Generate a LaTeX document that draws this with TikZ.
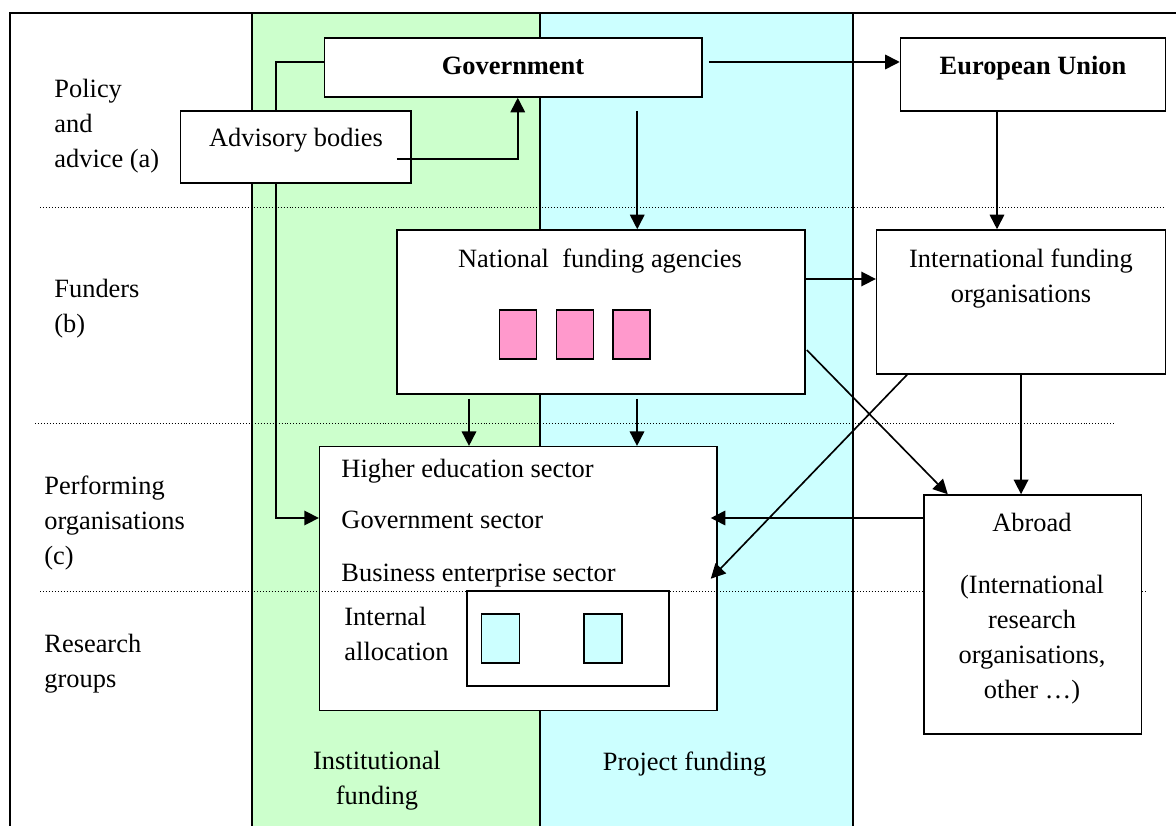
\documentclass[tikz,border=0pt]{standalone}
\usepackage{fontspec}
\setmainfont{Liberation Serif}
\usetikzlibrary{arrows.meta,fit,calc}
\definecolor{instgreen}{HTML}{CCFFCC}
\definecolor{projcyan}{HTML}{CCFFFF}
\definecolor{agencypink}{HTML}{FF99CC}
\tikzset{
  box/.style={draw, fill=white, line width=0.7pt, inner sep=0pt},
  arr/.style={-{Triangle[length=6.6pt,width=6.6pt]}, line width=0.75pt},
  dotline/.style={line width=0.45pt, dash pattern=on 0.45pt off 0.9pt},
  lbl/.style={inner sep=0pt, align=left, anchor=north west},
  txt/.style={inner sep=0pt, align=center, anchor=north},
  pinkbox/.style={draw, fill=agencypink, line width=0.7pt, inner sep=0pt, minimum width=17pt, minimum height=22.3pt},
  groupbox/.style={draw, fill=projcyan, line width=0.7pt, inner sep=0pt, minimum width=17.3pt, minimum height=22.3pt}
}
\begin{document}
\begin{tikzpicture}[x=0.4545pt,y=-0.4545pt,font=\fontsize{12}{15.9}\selectfont]
\useasboundingbox (0,0) rectangle (1176,826);
% columns
\fill[instgreen] (252,13) rectangle (540,826);
\fill[projcyan] (540,13) rectangle (853,826);
\foreach \x in {252,540,853}
  \draw[line width=1pt] (\x,13) -- (\x,826);
\draw[line width=1.3pt] (1176,13) -- (10,13) -- (10,826);
% levels
\draw[dotline] (40,207) -- (1165,207);
\draw[dotline] (35,423) -- (1114,423);
\node[lbl] (tpol) at (54,79) {Policy\\and\\advice (a)};
\node[lbl] (tfun) at (54,279) {Funders\\(b)};
\node[lbl] (tperf) at (44,475) {Performing\\organisations\\(c)};
\node[lbl] (tres) at (44,634) {Research\\groups};
\node[txt] (tinst) at (377,751) {Institutional\\funding};
\node[txt] (tproj) at (684.6,751) {Project funding};
% boxes
\node[box, fit={(324.5,38) (702,97)}] (gov) {};
\node[box, fit={(319.6,446.7) (717,710.7)}] (perf) {};
\draw[dotline] (40,591) -- (1145,591);
\node[box, fit={(467,591) (669,686)}] (alloc) {};
\node[box, fit={(924,495) (1141.6,734)}] (abr) {};
\coordinate (bend) at (276,518);
\draw[arr] ($(gov.west)+(0,-5.5)$) -| (bend) -- (bend -| perf.west);
\node[box, fit={(180.6,111) (411,183)}] (adv) {};
\node[box, fit={(900.5,38) (1165.5,111)}] (eu) {};
\node[box, fit={(397,230) (805,394)}] (nfa) {};
\node[box, fit={(876.6,230) (1165.5,374)}] (ifo) {};
\foreach \x [count=\i] in {518,575,631.5}
  \node[pinkbox] (ag\i) at (\x,334.5) {};
\foreach \x [count=\i] in {500.4,603}
  \node[groupbox] (gr\i) at (\x,638.5) {};
% texts
\node[txt] (tgov) at (513,57) {\textbf{Government}};
\node[txt] (teu) at (1033,56) {\textbf{European Union}};
\node[txt] (tadv) at (296,128) {Advisory bodies};
\node[txt] (tnfa) at (600,248) {National\ \ funding agencies};
\node[txt] (tifo) at (1021,248) {International funding\\organisations};
\node[inner sep=0pt, anchor=base west] (the) at (341,477) {Higher education sector};
\node[inner sep=0pt, anchor=base west] (tgs) at (341,528) {Government sector};
\node[inner sep=0pt, anchor=base west] (tbes) at (341,581) {Business enterprise sector};
\node[lbl] (tint) at (344,607) {Internal\\allocation};
\node[txt] (tabr) at (1032,513) {Abroad\\[12pt](International\\research\\organisations,\\other …)};
% flows
\draw[arr] ($(adv.east)+(-15,12)$) -| ($(gov.south)+(4.5,0)$);
\coordinate (g1) at ($(gov.east)+(6,-5.5)$);
\draw[arr] (g1) -- (g1 -| eu.west);
\draw[arr] ($(gov.south)+(124,13)$) coordinate (g2) -- (g2 |- nfa.north);
\draw[arr] ($(eu.south)+(-36,0)$) coordinate (e1) -- (e1 |- ifo.north);
\draw[arr] ($(nfa.east)+(0,-33)$) coordinate (n1) -- (n1 -| ifo.west);
\draw[arr] ($(nfa.east)+(1,38)$) -- ($(abr.north)+(-85,0)$);
\draw[arr] ($(ifo.south)+(-114,0)$) -- ($(perf.east)+(-7,0)$);
\draw[arr] (ifo.south) -- (ifo.south |- abr.north);
\draw[arr] ($(abr.west)+(0,-96.5)$) coordinate (a1) -- ($(a1 -| perf.east)+(-7,0)$);
\foreach \dx in {-132,36}
  \draw[arr] ($(nfa.south)+(\dx,4)$) coordinate (n2) -- (n2 |- perf.north);
\end{tikzpicture}
\end{document}
